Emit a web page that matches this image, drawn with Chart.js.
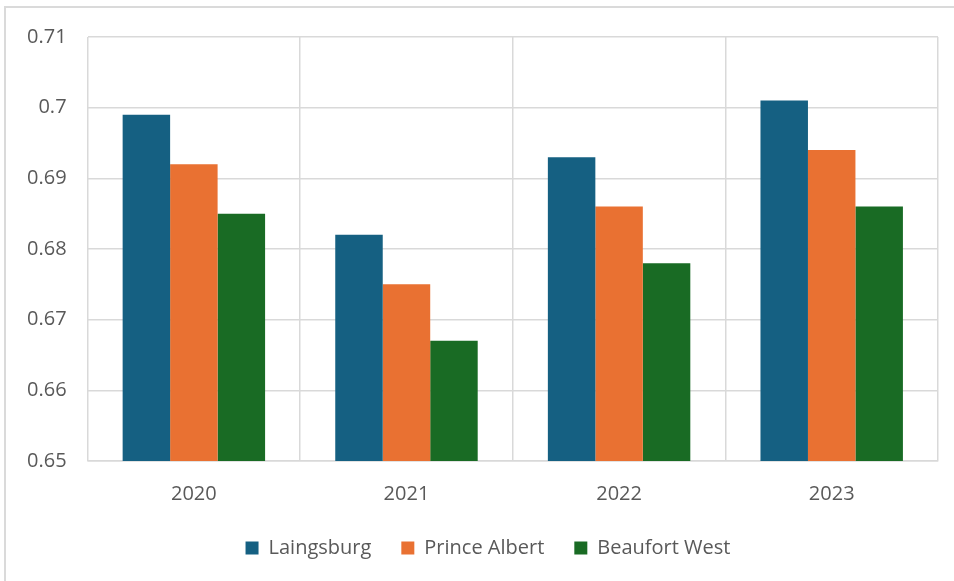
<!DOCTYPE html>
<html>
<head>
<meta charset="utf-8">
<script src="https://cdn.jsdelivr.net/npm/chart.js@4.4.1/dist/chart.umd.min.js"></script>
<style>
  html, body { margin: 0; padding: 0; background: #fff; }
  #wrap { position: relative; width: 954px; height: 581px; overflow: hidden; }
  #frame { position: absolute; left: 4px; top: 6px; width: 960px; height: 600px;
           border: 2px solid #dadada; box-sizing: border-box; }
  #chart { position: absolute; left: 0; top: 0; }
</style>
</head>
<body>
<div id="wrap">
  <div id="frame"></div>
  <canvas id="chart" width="954" height="581"></canvas>
</div>
<script>
// categories and series
var years = ['2020', '2021', '2022', '2023'];
var laingsburg = [0.699, 0.682, 0.693, 0.701];
var princeAlbert = [0.692, 0.675, 0.686, 0.694];
var beaufortWest = [0.685, 0.667, 0.678, 0.686];

var gridColor = '#d9d9d9';
var textColor = '#595959';
var fontFamily = '"Open Sans", "Noto Sans", sans-serif';

Chart.defaults.font.family = fontFamily;
Chart.defaults.color = textColor;

// legend keeps its wide item spacing but sits closer to the axis labels
var legendShift = {
    id: 'legendShift',
    afterLayout: function (chart) {
        var legend = chart.legend;
        if (!legend) return;
        legend.top -= 19;
        legend.bottom -= 19;
        legend.left += 16;
        legend.right += 16;
    }
};

var ctx = document.getElementById('chart').getContext('2d');
var chart = new Chart(ctx, {
    type: 'bar',
    data: {
        labels: years,
        datasets: [
            { label: 'Laingsburg', data: laingsburg, backgroundColor: '#156082' },
            { label: 'Prince Albert', data: princeAlbert, backgroundColor: '#e97132' },
            { label: 'Beaufort West', data: beaufortWest, backgroundColor: '#196b24' }
        ]
    },
    options: {
        responsive: false,
        animation: false,
        layout: {
            padding: { left: 6, right: 16, top: 37, bottom: -6 }
        },
        datasets: {
            bar: { categoryPercentage: 0.67, barPercentage: 1.0 }
        },
        scales: {
            x: {
                grid: { color: gridColor, lineWidth: 1.5, drawTicks: false },
                border: { color: gridColor, width: 1.5 },
                ticks: { padding: 21, font: { size: 20 }, color: textColor }
            },
            y: {
                min: 0.65,
                max: 0.71,
                grid: { color: gridColor, lineWidth: 1.5, drawTicks: false },
                border: { display: false },
                ticks: {
                    stepSize: 0.01,
                    padding: 21,
                    font: { size: 20 },
                    color: textColor,
                    callback: function (v) { return String(parseFloat(v.toFixed(3))); }
                }
            }
        },
        plugins: {
            legend: {
                position: 'bottom',
                labels: {
                    boxWidth: 13,
                    boxHeight: 13,
                    padding: 30,
                    font: { size: 20 },
                    color: textColor
                }
            },
            tooltip: { enabled: false }
        }
    },
    plugins: [legendShift]
});
</script>
</body>
</html>
